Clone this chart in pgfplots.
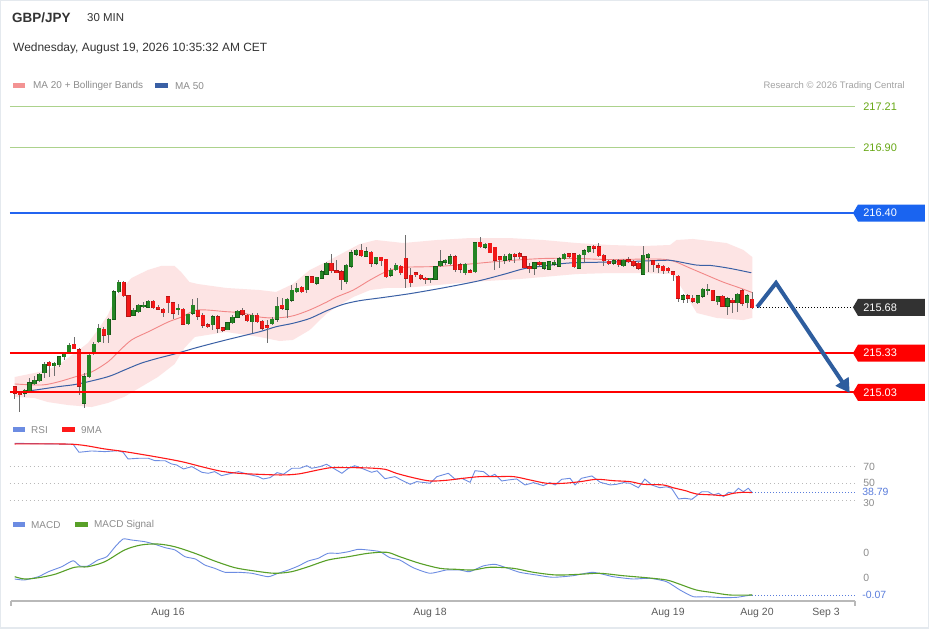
\documentclass[border=0pt]{standalone}
\usepackage{pgfplots}
\pgfplotsset{compat=1.18}
\usepackage{pgfplotstable}
\usetikzlibrary{arrows.meta}
\usepackage{fontspec}
\setmainfont{Liberation Sans}
\newcommand{\fs}[1]{\fontsize{#1}{#1}\selectfont}

\definecolor{bbfill}{RGB}{253,228,228}
\definecolor{ma20}{RGB}{242,135,135}
\definecolor{ma50}{RGB}{58,96,165}
\definecolor{cgreen}{RGB}{36,132,36}
\definecolor{cgreenb}{RGB}{22,90,22}
\definecolor{cred}{RGB}{242,24,24}
\definecolor{credb}{RGB}{180,22,22}
\definecolor{wick}{RGB}{110,110,110}
\definecolor{lvlgreenline}{RGB}{172,210,140}
\definecolor{lvlgreentext}{RGB}{104,168,22}
\definecolor{lvlblue}{RGB}{35,100,240}
\definecolor{lvlbluebox}{RGB}{26,100,240}
\definecolor{lvlred}{RGB}{255,0,0}
\definecolor{darkbox}{RGB}{50,50,50}
\definecolor{arrowblue}{RGB}{46,93,158}
\definecolor{rsiblue}{RGB}{108,140,226}
\definecolor{rsired}{RGB}{255,25,25}
\definecolor{macdgreen}{RGB}{88,160,40}
\definecolor{txtgray}{RGB}{140,140,140}
\definecolor{headgray}{RGB}{51,51,51}
\definecolor{dotgray}{RGB}{185,185,185}
\definecolor{axgray}{RGB}{185,185,185}
\definecolor{lblblue}{RGB}{90,125,220}
\definecolor{frame}{RGB}{228,233,238}

\pgfplotstableread{
i o h l c
0 215.074 215.079 214.978 215.024
1 215.028 215.036 214.883 215.018
2 215.024 215.059 214.998 215.049
3 215.043 215.138 215.036 215.105
4 215.095 215.158 215.087 215.125
5 215.120 215.176 215.112 215.171
6 215.181 215.265 215.138 215.247
7 215.260 215.270 215.150 215.234
8 215.232 215.265 215.156 215.253
9 215.240 215.308 215.227 215.303
10 215.303 215.341 215.283 215.329
11 215.341 215.410 215.329 215.392
12 215.398 215.456 215.359 215.364
13 215.359 215.367 215.011 215.079
14 214.947 215.176 214.909 215.150
15 215.150 215.324 215.138 215.316
16 215.324 215.418 215.316 215.398
17 215.418 215.550 215.405 215.520
18 215.515 215.532 215.405 215.469
19 215.469 215.601 215.405 215.589
20 215.591 215.812 215.583 215.799
21 215.799 215.889 215.792 215.871
22 215.871 215.881 215.761 215.769
23 215.769 215.774 215.608 215.614
24 215.621 215.673 215.614 215.660
25 215.647 215.705 215.639 215.698
26 215.685 215.718 215.673 215.698
27 215.680 215.736 215.673 215.728
28 215.728 215.736 215.665 215.677
29 215.680 215.698 215.660 215.665
30 215.665 215.673 215.604 215.639
31 215.761 215.766 215.634 215.715
32 215.715 215.723 215.589 215.634
33 215.660 215.705 215.621 215.673
34 215.665 215.673 215.545 215.550
35 215.553 215.634 215.545 215.629
36 215.634 215.741 215.621 215.698
37 215.660 215.749 215.583 215.614
38 215.621 215.634 215.520 215.545
39 215.550 215.558 215.520 215.532
40 215.545 215.621 215.507 215.608
41 215.608 215.621 215.482 215.520
42 215.525 215.532 215.494 215.507
43 215.512 215.570 215.507 215.563
44 215.563 215.621 215.550 215.604
45 215.604 215.660 215.596 215.652
46 215.660 215.673 215.614 215.627
47 215.621 215.634 215.570 215.578
48 215.570 215.634 215.482 215.621
49 215.621 215.634 215.558 215.570
50 215.576 215.583 215.507 215.520
51 215.540 215.583 215.410 215.527
52 215.558 215.608 215.545 215.591
53 215.589 215.761 215.570 215.690
54 215.698 215.753 215.660 215.673
55 215.668 215.753 215.596 215.743
56 215.736 215.850 215.723 215.812
57 215.799 215.863 215.787 215.825
58 215.833 215.843 215.787 215.799
59 215.812 215.921 215.787 215.914
60 215.914 215.921 215.863 215.868
61 215.863 215.914 215.850 215.909
62 215.902 215.965 215.894 215.952
63 215.932 216.028 215.927 216.016
64 216.016 216.087 215.944 215.960
65 215.960 216.041 215.940 215.944
66 215.952 215.965 215.817 215.889
67 215.876 216.011 215.856 216.003
68 215.995 216.118 215.985 216.097
69 216.087 216.125 216.072 216.118
70 216.118 216.161 216.067 216.072
71 216.072 216.143 216.067 216.105
72 216.100 216.108 215.990 216.016
73 216.016 216.067 216.003 216.062
74 216.062 216.065 215.995 216.036
75 216.047 216.054 215.909 215.914
76 215.927 215.978 215.914 215.965
77 215.965 216.016 215.960 216.003
78 215.995 216.003 215.927 215.944
79 216.054 216.232 215.825 215.902
80 215.927 215.978 215.838 215.868
81 215.944 215.952 215.914 215.927
82 215.927 215.934 215.889 215.902
83 215.902 215.914 215.863 215.889
84 215.889 215.909 215.868 215.902
85 215.894 215.995 215.889 215.990
86 215.998 216.118 215.990 216.028
87 216.026 216.047 216.003 216.036
88 216.016 216.085 216.003 216.067
89 216.067 216.080 215.952 215.970
90 216.008 216.016 215.944 215.970
91 215.944 216.021 215.927 216.011
92 215.960 215.970 215.940 215.947
93 215.952 216.181 215.944 216.176
94 216.181 216.219 216.130 216.143
95 216.138 216.173 216.123 216.163
96 216.169 216.173 216.092 216.100
97 216.138 216.143 215.965 216.041
98 216.067 216.072 215.978 216.041
99 216.041 216.087 216.016 216.072
100 216.047 216.092 216.028 216.085
101 216.085 216.092 216.016 216.072
102 216.092 216.105 216.047 216.067
103 216.067 216.072 215.978 215.985
104 215.990 216.016 215.940 215.978
105 215.978 216.028 215.927 216.021
106 216.024 216.036 215.990 216.008
107 215.978 216.028 215.965 216.024
108 215.970 216.033 215.965 216.028
109 216.011 216.041 215.995 216.024
110 215.995 216.062 215.985 216.054
111 216.054 216.097 216.047 216.087
112 216.092 216.097 216.057 216.072
113 216.092 216.097 215.985 215.990
114 215.978 216.087 215.970 216.080
115 216.080 216.123 216.016 216.113
116 216.105 216.148 216.092 216.143
117 216.143 216.156 216.092 216.135
118 216.143 216.169 216.062 216.074
119 216.080 216.087 215.995 216.036
120 216.033 216.041 216.003 216.016
121 216.016 216.047 216.003 216.036
122 216.036 216.047 215.990 216.003
123 215.998 216.047 215.990 216.041
124 216.041 216.067 216.021 216.033
125 216.033 216.041 215.990 216.003
126 216.016 216.024 215.965 215.978
127 215.934 216.148 215.927 216.080
128 216.062 216.097 215.952 216.087
129 216.036 216.041 215.952 216.003
130 215.995 216.016 215.940 215.990
131 215.995 216.003 215.932 215.960
132 215.978 215.985 215.940 215.960
133 215.952 215.960 215.883 215.927
134 215.919 215.927 215.723 215.749
135 215.743 215.782 215.711 215.769
136 215.769 215.782 215.715 215.749
137 215.749 215.774 215.711 215.728
138 215.715 215.774 215.705 215.769
139 215.766 215.825 215.753 215.817
140 215.807 215.863 215.774 215.817
141 215.812 215.817 215.731 215.736
142 215.723 215.769 215.698 215.761
143 215.766 215.774 215.680 215.690
144 215.690 215.761 215.621 215.749
145 215.736 215.749 215.639 215.718
146 215.715 215.792 215.647 215.782
147 215.807 215.817 215.690 215.711
148 215.715 215.782 215.673 215.769
149 215.743 215.795 215.665 215.680
}\candles

\pgfplotsset{panel/.style={scale only axis, width=929bp, xmin=-2.970, xmax=184.71,
  hide axis, clip=false, anchor=south west},
  candle/.style={draw=none, mark=none, forget plot,
  error bars/.cd, y dir=both, y explicit, error mark=none}}

\begin{document}
\begin{tikzpicture}[x=1bp,y=1bp]
\fill[white] (0,0) rectangle (929,629);
\draw[frame, line width=1.5bp] (0.75,0.75) rectangle (928.25,628.25);

% header
\node[anchor=west, inner sep=0, text=headgray, font=\fs{13.5}\bfseries] at (12,611) {GBP/JPY};
\node[anchor=west, inner sep=0, text=headgray, font=\fs{11.5}] at (87,611) {30 MIN};
\node[anchor=west, inner sep=0, text=headgray, font=\fs{12}] at (13,581) {Wednesday, August 19, 2026 10:35:32 AM CET};
\fill[ma20!90!white] (13,541) rectangle (25,545.5);
\node[anchor=west, inner sep=0, text=txtgray, font=\fs{10}] at (33,543) {MA 20 + Bollinger Bands};
\fill[ma50] (155,541) rectangle (168,545.5);
\node[anchor=west, inner sep=0, text=txtgray, font=\fs{10}] at (175,543) {MA 50};
\node[anchor=east, inner sep=0, text=txtgray!80, font=\fs{9.5}] at (905,543) {Research © 2026 Trading Central};

% RSI legend
\fill[rsiblue] (13,197) rectangle (25,201.5);
\node[anchor=west, inner sep=0, text=txtgray, font=\fs{10}] at (31,199) {RSI};
\fill[rsired] (62,197) rectangle (75,201.5);
\node[anchor=west, inner sep=0, text=txtgray, font=\fs{10}] at (81,199) {9MA};
% MACD legend
\fill[rsiblue] (13,102) rectangle (25,106.5);
\node[anchor=west, inner sep=0, text=txtgray, font=\fs{10}] at (31,104) {MACD};
\fill[macdgreen] (75,102) rectangle (88,106.5);
\node[anchor=west, inner sep=0, text=txtgray, font=\fs{10}] at (94,104) {MACD Signal};

% ================= PRICE PANEL =================
\begin{axis}[panel, height=320bp, ymin=214.820, ymax=217.263, at={(0bp,209bp)}]
% Bollinger band area: upper band left to right, then lower band right to left
\addplot[fill=bbfill, draw=none, forget plot] coordinates {
(0,215.148) (4,215.179) (6.7,215.202) (9.4,215.255) (12.1,215.331) (13.5,215.370)
(14.8,215.408) (16.8,215.507) (18.8,215.621) (20.9,215.789) (23.6,215.904) (26.9,215.965)
(29.6,215.996) (32.3,215.996) (33.6,215.950) (35.3,215.873) (37,215.858) (42.7,215.828)
(49.5,215.812) (52.8,215.797) (56.2,215.858) (59.6,215.965) (62.9,216.026) (66.3,216.095)
(69.7,216.163) (73,216.194) (78.5,216.171) (85.3,216.194) (92,216.209) (100,216.209)
(106.8,216.194) (113.5,216.171) (120.2,216.156) (127,216.148) (132.4,216.156) (133.7,216.194)
(137,216.202) (143.8,216.171) (147.2,216.118) (149,216.064)
(149,215.599) (147.2,215.583) (141.8,215.599) (137.8,215.637) (135,215.812) (133,215.934)
(127,215.942) (120.2,215.942) (113.5,215.934) (106.8,215.912) (102,215.896) (98.7,215.889)
(92,215.873) (85.3,215.850) (78.5,215.828) (75.2,215.828) (71.8,215.812) (68.4,215.759)
(65,215.683) (62.9,215.629) (59.6,215.507) (56.2,215.431) (53.5,215.423) (49.5,215.454)
(42.7,215.492) (36.4,215.454) (34.3,215.370) (32.3,215.247) (28.9,215.148) (25.5,215.072)
(22.1,214.996) (18.8,214.950) (15.5,214.919) (10.8,214.934) (6.7,214.957) (4,214.988)
(0,214.996)};

% MA20
\addplot[ma20, line width=0.9bp, smooth, forget plot] coordinates {
(0,215.095) (5.4,215.087) (8.7,215.110) (12.1,215.148) (15.5,215.186) (18.8,215.263)
(20.9,215.339) (23.6,215.431) (26.9,215.492) (31,215.568) (33.7,215.606) (37,215.660)
(42.7,215.647) (46,215.637) (49.5,215.606) (52.8,215.599) (56.2,215.615) (59.6,215.660)
(62.9,215.718) (65,215.759) (68.4,215.812) (71.8,215.889) (75.2,215.955) (78.5,215.985)
(85.3,215.992) (92,216.011) (98.7,216.034) (106.8,216.053) (113.5,216.053) (120.2,216.045)
(129.6,216.049) (133,216.034) (136.4,215.980) (139.7,215.927) (143.1,215.873) (146.5,215.828)
(149,215.793)};
% MA50
\addplot[ma50, line width=1bp, smooth, forget plot] coordinates {
(0,215.030) (2.7,215.041) (8.7,215.074) (12.8,215.095) (18.8,215.150) (22.2,215.202)
(25.5,215.253) (28.9,215.291) (32.3,215.324) (37,215.375) (42.7,215.431) (49.5,215.494)
(52.8,215.532) (56.2,215.558) (59.6,215.595) (62.9,215.652) (66.3,215.702) (69.7,215.731)
(74.4,215.755) (80.1,215.786) (86.9,215.831) (93.6,215.881) (98.7,215.931) (103,215.976)
(107,215.996) (111.8,216.018) (117.5,216.024) (124.2,216.030) (131,216.039) (133,216.036)
(137.7,216.003) (140.5,216.000) (144.4,215.978) (148.8,215.944)};

% wicks
\addplot[candle, error bar style={line width=0.9bp, draw=wick, solid}]
  table[x=i, y expr={(\thisrow{h}+\thisrow{l})/2}, y error expr={(\thisrow{h}-\thisrow{l})/2}] {\candles};
% green bodies (border, then fill)
\addplot[candle, error bar style={line width=4.2bp, draw=cgreenb, solid},
  /pgfplots/restrict expr to domain={\thisrow{c}-\thisrow{o}}{0:10}]
  table[x=i, y expr={(\thisrow{o}+\thisrow{c})/2}, y error expr={max(abs(\thisrow{c}-\thisrow{o})/2,0.007)+0.003}] {\candles};
\addplot[candle, error bar style={line width=3.4bp, draw=cgreen, solid},
  /pgfplots/restrict expr to domain={\thisrow{c}-\thisrow{o}}{0:10}]
  table[x=i, y expr={(\thisrow{o}+\thisrow{c})/2}, y error expr={max(abs(\thisrow{c}-\thisrow{o})/2,0.007)}] {\candles};
% red bodies (border, then fill)
\addplot[candle, error bar style={line width=4.2bp, draw=credb, solid},
  /pgfplots/restrict expr to domain={\thisrow{o}-\thisrow{c}}{0.00001:10}]
  table[x=i, y expr={(\thisrow{o}+\thisrow{c})/2}, y error expr={max(abs(\thisrow{c}-\thisrow{o})/2,0.007)+0.003}] {\candles};
\addplot[candle, error bar style={line width=3.4bp, draw=cred, solid},
  /pgfplots/restrict expr to domain={\thisrow{o}-\thisrow{c}}{0.00001:10}]
  table[x=i, y expr={(\thisrow{o}+\thisrow{c})/2}, y error expr={max(abs(\thisrow{c}-\thisrow{o})/2,0.007)}] {\candles};

% levels
\addplot[lvlgreenline, line width=1bp, forget plot] coordinates {(-0.95,217.21) (169.76,217.21)};
\addplot[lvlgreenline, line width=1bp, forget plot] coordinates {(-0.95,216.90) (169.76,216.90)};
\addplot[lvlblue, line width=1.2bp, forget plot] coordinates {(-0.95,216.40) (169.76,216.40)};
\addplot[lvlred, line width=2bp, forget plot] coordinates {(-0.95,215.33) (169.76,215.33)};
\addplot[lvlred, line width=2bp, forget plot] coordinates {(-0.95,215.03) (169.76,215.03)};
\addplot[black, line width=0.8bp, dash pattern=on 1bp off 2bp, forget plot] coordinates {(150,215.68) (169.35,215.68)};

% projection arrow
\addplot[arrowblue, line width=4bp, line join=miter, -{Triangle[length=14bp,width=15bp]}, forget plot]
  coordinates {(150,215.683) (153.8,215.866) (168.7,215.026)};

% labels
\node[anchor=west, inner sep=0, text=lvlgreentext, font=\fs{11}] at (axis cs:171.4,217.21) {217.21};
\node[anchor=west, inner sep=0, text=lvlgreentext, font=\fs{11}] at (axis cs:171.4,216.90) {216.90};
\fill[lvlbluebox] (axis cs:169.35,216.40) -- ++(5bp,8.5bp) -- ++(67bp,0bp) -- ++(0bp,-17bp) -- ++(-67bp,0bp) -- cycle;
\node[anchor=west, inner sep=0, text=white, font=\fs{11}] at (axis cs:171.4,216.40) {216.40};
\fill[darkbox] (axis cs:169.35,215.68) -- ++(5bp,8.5bp) -- ++(67bp,0bp) -- ++(0bp,-17bp) -- ++(-67bp,0bp) -- cycle;
\node[anchor=west, inner sep=0, text=white, font=\fs{11}] at (axis cs:171.4,215.68) {215.68};
\fill[lvlred] (axis cs:169.35,215.33) -- ++(5bp,8.5bp) -- ++(67bp,0bp) -- ++(0bp,-17bp) -- ++(-67bp,0bp) -- cycle;
\node[anchor=west, inner sep=0, text=white, font=\fs{11}] at (axis cs:171.4,215.33) {215.33};
\fill[lvlred] (axis cs:169.35,215.03) -- ++(5bp,8.5bp) -- ++(67bp,0bp) -- ++(0bp,-17bp) -- ++(-67bp,0bp) -- cycle;
\node[anchor=west, inner sep=0, text=white, font=\fs{11}] at (axis cs:171.4,215.03) {215.03};
\end{axis}

% ================= RSI PANEL =================
\begin{axis}[panel, height=65bp, ymin=23.96, ymax=101.96, at={(0bp,124bp)}]
\addplot[dotgray, line width=0.8bp, dash pattern=on 1bp off 3bp, forget plot] coordinates {(-0.95,70) (169.76,70)};
\addplot[dotgray, line width=0.8bp, dash pattern=on 1bp off 3bp, forget plot] coordinates {(-0.95,50) (169.76,50)};
\addplot[dotgray, line width=0.8bp, dash pattern=on 1bp off 3bp, forget plot] coordinates {(-0.95,30) (169.76,30)};
\addplot[rsiblue, line width=0.9bp, forget plot] coordinates {
(0,98) (11.8,96.8) (13,87.2) (15.5,88.8) (18.2,88) (20.9,89.1) (21.9,87.2) (22.9,79.2)
(25,80) (27,80) (28.3,77.2) (30.4,77) (31.7,73.2) (32.7,72) (34.1,67.2) (35.8,70)
(37.8,63.2) (39.1,62) (40.4,64) (41.8,59.2) (43.8,62) (45.2,64) (47.2,60.8) (49.2,58)
(50.2,55.2) (51.6,56.8) (53,62.8) (54.3,60.8) (56,68) (57.6,68) (59,71.1) (60,68)
(61.7,70) (63,72.8) (64.4,68) (66.1,62) (67.4,68) (68.7,71.1) (70.1,68) (72.1,63.2)
(73.2,65) (74.8,55.5) (76.8,58) (78.5,52.8) (79.9,48.8) (81.2,52) (83.9,50) (85.3,58)
(87.6,62) (89,54.8) (90.3,56) (92,51.2) (93,65.1) (94.7,64) (96,58) (97,60.8)
(98.4,52.8) (99.7,54) (101.4,55.2) (103.1,48) (104.8,50.8) (106.8,47.2) (108.1,50.8) (109.2,48)
(110.5,54.8) (112.2,56) (113.2,48) (114.5,56) (116.6,58.8) (118.3,51.2) (120.3,48) (121.6,48.8)
(123,50.8) (124.3,50) (126,44.7) (127.3,55) (128.7,48) (130.3,44.7) (131.7,45.8) (132.7,44)
(134.1,31.2) (135.4,32) (136.8,30.8) (138.8,39.9) (140.1,39.9) (141.2,36) (142.2,38) (143.2,34)
(144.2,39.2) (145.2,38) (146.2,44) (147.2,39.9) (148.2,44) (149,38.79)};
\addplot[rsired, line width=1.1bp, smooth, forget plot] coordinates {
(0,97.2) (11.8,96.8) (18.2,91.2) (22.2,88) (28.3,82) (33.7,76) (38.5,68.8) (41.8,64.4)
(45.2,62) (49.2,60.8) (53.9,60) (57.3,61.2) (61.3,66) (64,68.8) (67.4,68.8) (71.4,68.4)
(74.8,66.8) (77.1,62) (80.5,56.7) (83.9,52.8) (87.2,53.6) (90.6,56) (94,58) (97.4,58)
(100.8,58) (104.1,54) (107.5,50) (110.9,50) (114.3,52) (117.6,54.8) (121,53.1) (124.3,52)
(127,48.8) (131,48) (133,44.7) (135.7,40.8) (137.7,37.2) (141.2,36) (143.2,35.2) (145.2,38)
(147.2,39.2) (149,38.79)};
\addplot[lblblue, line width=0.8bp, dash pattern=on 1bp off 2bp, forget plot] coordinates {(149,38.79) (169.76,38.79)};
\node[anchor=west, inner sep=0, text=txtgray, font=\fs{10.5}] at (axis cs:171.4,70) {70};
\node[anchor=west, inner sep=0, text=txtgray, font=\fs{10.5}] at (axis cs:171.4,50) {50};
\node[anchor=west, inner sep=0, text=txtgray, font=\fs{10}] at (axis cs:171.4,26.6) {30};
\node[anchor=west, inner sep=0, text=lblblue, font=\fs{10.5}] at (axis cs:171.2,39.6) {38.79};
\end{axis}

% ================= MACD PANEL =================
\begin{axis}[panel, height=66bp, ymin=-0.0947, ymax=0.1771, at={(0bp,28bp)}]
\addplot[rsiblue, line width=0.9bp, smooth, tension=0.35, forget plot] coordinates {
(0,-0.0041) (2,-0.0082) (4.8,0.0054) (6.8,0.0259) (9.5,0.0465) (11.8,0.0712) (13.2,0.0494)
(14.8,0.0494) (16.8,0.0741) (18.6,0.0877) (20.3,0.1289) (21.9,0.1606) (23.6,0.1565) (26.3,0.1495)
(28.3,0.1388) (30.4,0.1248) (32.4,0.1153) (34.4,0.0877) (36.5,0.0782) (38.4,0.0535) (40.4,0.0399)
(42.5,0.0235) (45.2,0.0235) (47.9,0.0194) (51.2,0.0054) (53.2,0.0194) (55.3,0.0330) (57.3,0.0494)
(59.3,0.0700) (61.3,0.0811) (63.3,0.1017) (65.4,0.1017) (67.4,0.1083) (69.4,0.1182) (71.4,0.1153)
(73.8,0.1083) (75.8,0.0836) (77.8,0.0741) (80.5,0.0424) (83.9,0.0194) (87.2,0.0330) (89.9,0.0330)
(91.9,0.0259) (94.6,0.0494) (97,0.0564) (99.3,0.0424) (102,0.0235) (105.4,0.0124) (108.7,0.0029)
(112.8,0.0095) (116.8,0.0235) (120.9,0.0054) (124.9,-0.0041) (128.3,-0.0012) (131.7,-0.0152)
(134.4,-0.0494) (137.1,-0.0770) (139.8,-0.0770) (143.2,-0.0811) (145.9,-0.0795) (147.9,-0.0729)
(149,-0.070)};
\addplot[macdgreen, line width=1.1bp, smooth, forget plot] coordinates {
(0,0.0054) (2,-0.0041) (4.8,0.0012) (8.1,0.0152) (12.1,0.0441) (14.8,0.0465) (18.2,0.0671)
(22.2,0.1153) (25.5,0.1359) (28.9,0.1400) (32.3,0.1289) (36.4,0.1017) (40.4,0.0700) (44.5,0.0424)
(48.5,0.0288) (52.5,0.0194) (55.9,0.0259) (59.3,0.0465) (63.3,0.0741) (67.4,0.0877) (71.4,0.1017)
(75.2,0.1058) (77.8,0.0877) (81.8,0.0605) (85.9,0.0399) (89.2,0.0358) (92.6,0.0330) (96,0.0441)
(100.7,0.0399) (104.8,0.0235) (109.4,0.0124) (114.1,0.0152) (118.2,0.0194) (122.9,0.0095)
(127.6,0.0012) (131.7,-0.0082) (134.4,-0.0259) (137.7,-0.0494) (141.2,-0.0605) (144.5,-0.070)
(149,-0.070)};
\addplot[lblblue, line width=0.8bp, dash pattern=on 1bp off 2bp, forget plot] coordinates {(149,-0.07) (169.76,-0.07)};
\node[anchor=west, inner sep=0, text=txtgray, font=\fs{10.5}] at (axis cs:171.4,0.103) {0};
\node[anchor=west, inner sep=0, text=txtgray, font=\fs{10.5}] at (axis cs:171.4,0.0) {0};
\node[anchor=west, inner sep=0, text=lblblue, font=\fs{10.5}] at (axis cs:171.2,-0.07) {-0.07};
% time axis
\addplot[axgray, line width=1.3bp, forget plot] coordinates {(-0.75,-0.0947) (169.76,-0.0947)};
\draw[axgray, line width=1.2bp] (axis cs:-0.75,-0.0947) -- ++(0bp,-5bp);
\draw[axgray, line width=1.2bp] (axis cs:169.76,-0.0947) -- ++(0bp,-5bp);
\node[inner sep=0, text=headgray!80, font=\fs{10.5}] at (axis cs:30.97,-0.1441) {Aug 16};
\node[inner sep=0, text=headgray!80, font=\fs{10.5}] at (axis cs:83.9,-0.1441) {Aug 18};
\node[inner sep=0, text=headgray!80, font=\fs{10.5}] at (axis cs:131.98,-0.1441) {Aug 19};
\node[inner sep=0, text=headgray!80, font=\fs{10.5}] at (axis cs:149.96,-0.1441) {Aug 20};
\node[inner sep=0, text=headgray!80, font=\fs{10.5}] at (axis cs:163.9,-0.1441) {Sep 3};
\end{axis}
\end{tikzpicture}
\end{document}
